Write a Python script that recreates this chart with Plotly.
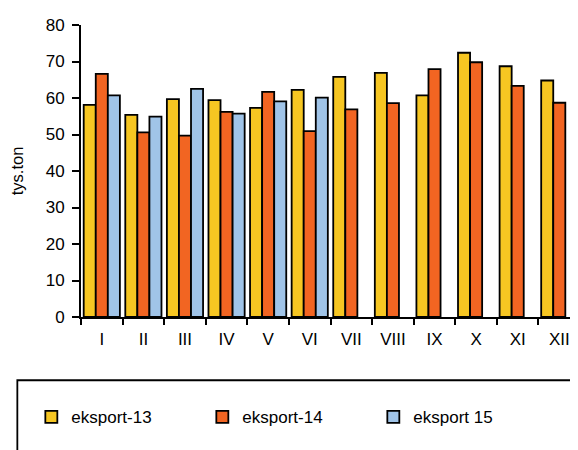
import plotly.graph_objects as go

months = ["I", "II", "III", "IV", "V", "VI", "VII", "VIII", "IX", "X", "XI", "XII"]
eksport_13 = [58.1, 55.4, 59.7, 59.4, 57.3, 62.2, 65.8, 66.9, 60.7, 72.4, 68.7, 64.8]
eksport_14 = [66.6, 50.6, 49.7, 56.2, 61.7, 50.9, 56.9, 58.6, 67.9, 69.8, 63.3, 58.7]
eksport_15 = [60.7, 54.9, 62.5, 55.7, 59.1, 60.1, None, None, None, None, None, None]
y_ticks = [0, 10, 20, 30, 40, 50, 60, 70, 80]

FONT = "Liberation Sans, Arial, sans-serif"
line = dict(color="black", width=1.8)

fig = go.Figure()
fig.add_bar(x=months, y=eksport_13, name="eksport-13", marker=dict(color="#F6C622", line=line))
fig.add_bar(x=months, y=eksport_14, name="eksport-14", marker=dict(color="#F26522", line=line))
fig.add_bar(x=months, y=eksport_15, name="eksport 15", marker=dict(color="#A0C4E8", line=line))

# page body has an 8px default margin: compensate
OFF = 8
FW, FH = 578 - OFF, 450 - OFF
L, T = 80.7 - OFF, 24.5 - OFF
W, H = FW - L, 316.7 - 24.5

def px_x(x):
    return (x - OFF - L) / W

def px_y(y):
    return (T + H - (y - OFF)) / H

fig.update_layout(
    width=FW, height=FH,
    margin=dict(l=L, r=0, t=T, b=FH - T - H, pad=0),
    plot_bgcolor="white", paper_bgcolor="white",
    barmode="group", bargap=0.13, bargroupgap=0,
    font=dict(family=FONT, size=17, color="black"),
    showlegend=True,
    legend=dict(
        orientation="h", x=px_x(31), xanchor="left", y=px_y(417), yanchor="middle",
        entrywidth=126, entrywidthmode="pixels", itemwidth=30,
        font=dict(family=FONT, size=17, color="black"),
        bgcolor="rgba(0,0,0,0)", borderwidth=0,
    ),
    shapes=[dict(
        type="rect", xref="paper", yref="paper",
        x0=px_x(17), x1=1.2, y0=px_y(380), y1=px_y(600),
        line=dict(color="black", width=1.8), fillcolor="rgba(0,0,0,0)", layer="below",
    )],
)
fig.update_xaxes(
    range=[-0.5, 11.45], showline=True, linecolor="black", linewidth=2,
    ticks="outside", ticklen=6, tickwidth=2, tickcolor="black", tickson="boundaries",
    showgrid=False, zeroline=False, ticklabelstandoff=6,
    tickfont=dict(family=FONT, size=17),
)
fig.update_yaxes(
    range=[0, 80], tickvals=y_ticks, showline=True, linecolor="black", linewidth=2,
    ticks="outside", ticklen=7, tickwidth=2, tickcolor="black",
    showgrid=False, zeroline=False, ticklabelstandoff=4,
    tickfont=dict(family=FONT, size=17),
    title=dict(text="tys.ton", font=dict(family=FONT, size=16.5), standoff=18),
)

fig.write_html("out.html")
